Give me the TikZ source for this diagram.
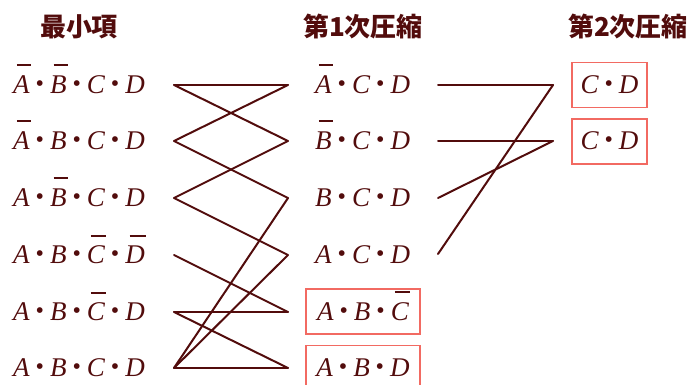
\documentclass[tikz,border=0pt]{standalone}
\usepackage{fontspec}
\setmainfont{Liberation Serif}
\newfontfamily\jpfont{Noto Sans CJK JP}
\usepackage{xcolor}
\usetikzlibrary{positioning}
\definecolor{ink}{HTML}{520C0C}
\definecolor{mark}{HTML}{F26A62}

% italic letter with a bar over it, and the product dot
\newcommand{\inv}[1]{\leavevmode\setbox0\hbox{#1}%
  \rlap{\hspace{0.22\wd0}\raisebox{27pt}{\rule{0.85\wd0}{2pt}}}\box0}
\newcommand{\pd}{\hspace{6pt}\raisebox{2pt}{\fontsize{24}{24}\selectfont\upshape •}\hspace{6pt}}

\begin{document}
\begin{tikzpicture}[
  x=1pt,y=-1pt,
  term/.style={font=\fontsize{27}{30}\selectfont\itshape,text=ink,inner sep=0pt,text height=17pt,text depth=0pt},
  head/.style={font=\jpfont\bfseries\fontsize{26}{30}\selectfont,text=ink,inner sep=0pt},
  kept/.style={term,draw=mark,line width=1.2pt,minimum height=45pt},
  wire/.style={draw=ink,line width=2pt,line cap=round,line join=round},
]
\useasboundingbox (0,0) rectangle (689,385);

% column headings
\node[head] (hmin) at (79,27) {最小項};
\node[head] (hone) at (363,27) {第1次圧縮};
\node[head] (htwo) at (628,27) {第2次圧縮};

% minterms
\node[term,anchor=west] (min1) at (13,85) {\inv{A}\pd\inv{B}\pd C\pd D};
\node[term,anchor=west] (min2) at (13,141) {\inv{A}\pd B\pd C\pd D};
\node[term,anchor=west] (min3) at (13,198) {A\pd\inv{B}\pd C\pd D};
\node[term,anchor=west] (min4) at (13,255) {A\pd B\pd\inv{C}\pd\inv{D}};
\node[term,anchor=west] (min5) at (13,312) {A\pd B\pd\inv{C}\pd D};
\node[term,anchor=west] (min6) at (13,368) {A\pd B\pd C\pd D};

% first compression
\node[term,anchor=west] (one1) at (315,85) {\inv{A}\pd C\pd D};
\node[term,anchor=west] (one2) at (315,141) {\inv{B}\pd C\pd D};
\node[term,anchor=west] (one3) at (315,198) {B\pd C\pd D};
\node[term,anchor=west] (one4) at (315,255) {A\pd C\pd D};
\node[kept,minimum width=114pt] (one5) at (363,311.5) {A\pd B\pd\inv{C}};
\node[kept,minimum width=114pt] (one6) at (363,368) {A\pd B\pd D};

% second compression
\node[kept,minimum width=75pt] (two1) at (609.5,85) {C\pd D};
\node[kept,minimum width=75pt] (two2) at (609.5,141.5) {C\pd D};

% wire ends
\coordinate (a1) at (174,85);  \coordinate (b1) at (288,85);
\coordinate (a2) at (174,141); \coordinate (b2) at (288,141);
\coordinate (a3) at (174,198); \coordinate (b3) at (288,198);
\coordinate (a4) at (174,255); \coordinate (b4) at (288,255);
\coordinate (a5) at (174,312); \coordinate (b5) at (288,312);
\coordinate (a6) at (174,368); \coordinate (b6) at (288,368);
\coordinate (c1) at (438,85);  \coordinate (d1) at (553,85);
\coordinate (c2) at (438,141); \coordinate (d2) at (553,141);
\coordinate (c3) at (438,198);
\coordinate (c4) at (438,254);

\draw[wire] (a1) -- (b1);
\draw[wire] (a1) -- (b2);
\draw[wire] (a2) -- (b1);
\draw[wire] (a2) -- (b3);
\draw[wire] (a3) -- (b2);
\draw[wire] (a3) -- (b4);
\draw[wire] (a4) -- (b5);
\draw[wire] (a5) -- (b5);
\draw[wire] (a5) -- (b6);
\draw[wire] (a6) -- (b3);
\draw[wire] (a6) -- (b4);
\draw[wire] (a6) -- (b6);

\draw[wire] (c1) -- (d1);
\draw[wire] (d1) -- (c4);
\draw[wire] (c2) -- (d2);
\draw[wire] (d2) -- (c3);
\end{tikzpicture}
\end{document}
